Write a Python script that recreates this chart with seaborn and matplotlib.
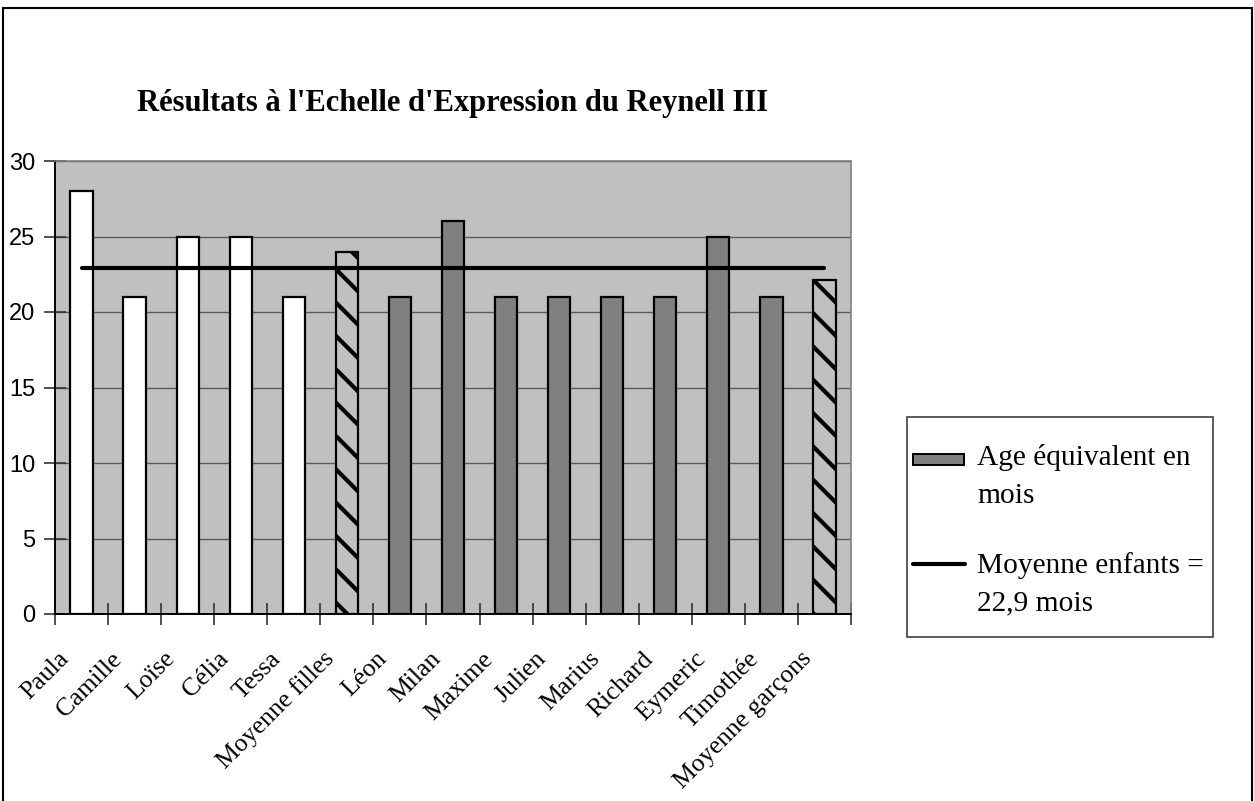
import matplotlib
matplotlib.use("Agg")
import matplotlib.pyplot as plt
import matplotlib.transforms as mtransforms
from matplotlib.patches import Rectangle
from matplotlib.lines import Line2D
import seaborn as sns
import numpy as np
import pandas as pd

# Scores (age équivalent en mois) à l'échelle d'expression
enfants = ["Paula", "Camille", "Loïse", "Célia", "Tessa", "Moyenne filles",
           "Léon", "Milan", "Maxime", "Julien", "Marius", "Richard",
           "Eymeric", "Timothée", "Moyenne garçons"]
ages = [28, 21, 25, 25, 21, 24, 21, 26, 21, 21, 21, 21, 25, 21, 22.1]
groupes = ["fille"] * 5 + ["moyenne"] + ["garçon"] * 8 + ["moyenne"]
moyenne_enfants = 22.9
y_ticks = [0, 5, 10, 15, 20, 25, 30]
legende = ["Age équivalent en\nmois", "Moyenne enfants =\n22,9 mois"]

sns.set_theme(style="white")
SERIF = ["Liberation Serif", "DejaVu Serif"]
SANS = ["Liberation Sans", "DejaVu Sans"]
plt.rcParams["font.family"] = SERIF
plt.rcParams.update({"text.color": "black", "xtick.color": "black",
                     "ytick.color": "black", "hatch.linewidth": 3.0})

df = pd.DataFrame({"enfant": enfants, "age": ages, "groupe": groupes})
couleurs = {"fille": "#FFFFFF", "garçon": "#808080", "moyenne": "#C0C0C0"}

W, H = 1254, 801
fig = plt.figure(figsize=(W / 100, H / 100), dpi=100)
fig.patch.set_facecolor("white")


def fx(px):
    return px / W


def fy(py):
    return 1 - py / H


ax = fig.add_axes([fx(55), fy(614), (851 - 55) / W, (614 - 161) / H])
ax.set_facecolor("#C0C0C0")

sns.barplot(data=df, x="enfant", y="age", hue="groupe", palette=couleurs,
            dodge=False, width=0.42, legend=False, ax=ax,
            edgecolor="black", linewidth=1.6, saturation=1)

for p in ax.patches:
    idx = int(round(p.get_x() + p.get_width() / 2))
    if groupes[idx] == "moyenne":
        p.set_hatch("\\")
        p.set_edgecolor("black")

n = len(enfants)
ax.plot([0, n - 1], [moyenne_enfants, moyenne_enfants], color="black",
        lw=3, solid_capstyle="round", zorder=5)

ax.set_xlim(-0.5, n - 0.5)
ax.set_ylim(0, 30)
ax.set_yticks(y_ticks)
ax.yaxis.grid(True, color="#5a5a5a", lw=1)
ax.set_axisbelow(True)
ax.set_xlabel("")
ax.set_ylabel("")

for s in ["left", "bottom"]:
    ax.spines[s].set_color("black")
    ax.spines[s].set_linewidth(1.4)
for s in ["top", "right"]:
    ax.spines[s].set_color("#808080")
    ax.spines[s].set_linewidth(1.2)

# Category labels and boundary tick marks
ax.set_xticks(range(n))
ax.set_xticklabels(enfants, rotation=45, ha="right", va="center",
                   rotation_mode="anchor", fontsize=18.5, family=SERIF)
ax.set_xticks(np.arange(-0.5, n, 1.0), minor=True)
ax.tick_params(axis="x", which="both", bottom=True)
ax.tick_params(axis="x", which="major", length=0, pad=30)
ax.tick_params(axis="x", which="minor", direction="inout", length=16,
               width=1.2, color="#333333")
offset = mtransforms.ScaledTranslation(-16 / 100, 0, fig.dpi_scale_trans)
for lab in ax.get_xticklabels():
    lab.set_transform(lab.get_transform() + offset)

ax.tick_params(axis="y", left=True, direction="inout", length=16, width=1.2,
               color="#333333", pad=6, labelsize=17)
for lab in ax.get_yticklabels():
    lab.set_family(SANS)

fig.text(fx(453), fy(104), "Résultats à l'Echelle d'Expression du Reynell III",
         ha="center", va="center", fontsize=22, fontweight="bold", family=SERIF)

# Legend box
fig.patches.append(Rectangle((fx(907), fy(637)), (1213 - 907) / W, (637 - 417) / H,
                             transform=fig.transFigure, facecolor="white",
                             edgecolor="#404040", lw=1.2, zorder=1))
fig.patches.append(Rectangle((fx(913), fy(465)), (964 - 913) / W, 11 / H,
                             transform=fig.transFigure, facecolor="#808080",
                             edgecolor="black", lw=1.4, zorder=2))
fig.lines.append(Line2D([fx(913), fx(965)], [fy(564), fy(564)],
                        transform=fig.transFigure, color="black", lw=3, zorder=2))
for label, baselines in zip(legende, [(465, 503), (573, 610)]):
    for line, b in zip(label.split("\n"), baselines):
        fig.text(fx(977), fy(b), line, ha="left", va="baseline",
                 fontsize=21.2, family=SERIF, zorder=3)

# Outer frame of the chart area
fig.patches.append(Rectangle((fx(3), -0.01), (1252 - 3) / W, fy(8) + 0.01,
                             transform=fig.transFigure, fill=False,
                             edgecolor="black", lw=1.5))

fig.savefig("out.png", dpi=100)
